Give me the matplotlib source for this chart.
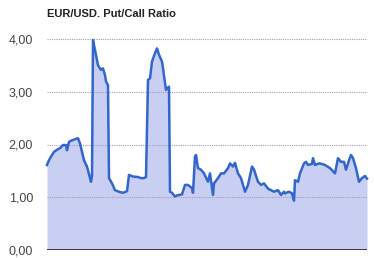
import matplotlib
matplotlib.use('Agg')
import matplotlib.pyplot as plt

# trading day index and put/call ratio
days = [0, 2, 4, 7, 10, 13, 16, 19, 20, 22, 25, 28, 31, 33, 37, 40, 44, 45,
        46, 48, 51, 54, 56, 58, 59, 61, 62, 65, 68, 72, 76, 80, 82, 86, 91,
        94, 97, 99, 101, 103, 105, 108, 110, 112, 115, 116, 119, 120, 122,
        123, 125, 128, 130, 135, 138, 141, 145, 146, 148, 149, 151, 154, 157,
        161, 163, 166, 167, 171, 174, 177, 181, 183, 186, 188, 191, 194, 198,
        201, 205, 207, 211, 214, 217, 221, 224, 227, 231, 234, 237, 238, 242,
        245, 247, 248, 251, 253, 257, 259, 261, 265, 266, 268, 272, 275, 278,
        283, 288, 291, 294, 297, 299, 302, 304, 306, 309, 312, 315, 318, 320]
ratio = [1.61, 1.70, 1.77, 1.86, 1.90, 1.93, 1.99, 1.99, 1.89, 2.05, 2.08,
         2.10, 2.12, 2.02, 1.70, 1.58, 1.29, 1.40,
         3.99, 3.80, 3.51, 3.42, 3.45, 3.32, 3.20, 3.13, 1.36, 1.26, 1.13,
         1.10, 1.08, 1.11, 1.42, 1.39, 1.38,
         1.36, 1.36, 1.38, 3.23, 3.26, 3.58, 3.74, 3.83, 3.71, 3.58, 3.45,
         3.04, 3.07, 3.10,
         1.10, 1.08, 1.01, 1.03, 1.05, 1.23, 1.23, 1.17, 1.08, 1.77, 1.80,
         1.55, 1.52, 1.45,
         1.29, 1.45, 1.04, 1.26, 1.36, 1.45, 1.45, 1.55, 1.64, 1.58, 1.65,
         1.45, 1.36, 1.10,
         1.23, 1.58, 1.52, 1.29, 1.23, 1.26, 1.16, 1.13, 1.10, 1.13, 1.04,
         1.10, 1.07, 1.10,
         1.07, 0.93, 1.32, 1.29, 1.45, 1.64, 1.67, 1.61, 1.63, 1.74, 1.61,
         1.64, 1.63, 1.61,
         1.55, 1.45, 1.74, 1.67, 1.67, 1.52, 1.70, 1.80, 1.74, 1.55, 1.29,
         1.36, 1.40, 1.35]

yticks = [0, 1, 2, 3, 4]
ytick_labels = ['0,00', '1,00', '2,00', '3,00', '4,00']

plt.rcParams['font.family'] = ['Liberation Sans', 'DejaVu Sans']

fig = plt.figure(figsize=(3.74, 2.58), dpi=100)
ax = fig.add_axes([47 / 374, 8.5 / 258, 320 / 374, 225.75 / 258])

ax.fill_between(days, ratio, 0, color='#c8cff2', lw=0, zorder=1)
for v in yticks[1:]:
    ax.axhline(v, color='#a89cb8', lw=0.8, ls=(0, (1, 1)), zorder=2)
ax.plot(days, ratio, color='#3366cc', lw=1.8, zorder=3, clip_on=False)
ax.axhline(0, color='#222222', lw=1.2, zorder=4)

ax.set_xlim(min(days), max(days))
ax.set_ylim(0, 4.3)
ax.set_yticks(yticks)
ax.set_yticklabels(ytick_labels, color='#444444', fontsize=9)
ax.tick_params(axis='y', length=0, pad=10)
ax.set_xticks([])
for s in ax.spines.values():
    s.set_visible(False)

fig.text(47 / 374, 1 - 14 / 258, 'EUR/USD. Put/Call Ratio', fontsize=8,
         fontweight='bold', color='#222222', va='center', ha='left')

fig.savefig('out.png', dpi=100)
